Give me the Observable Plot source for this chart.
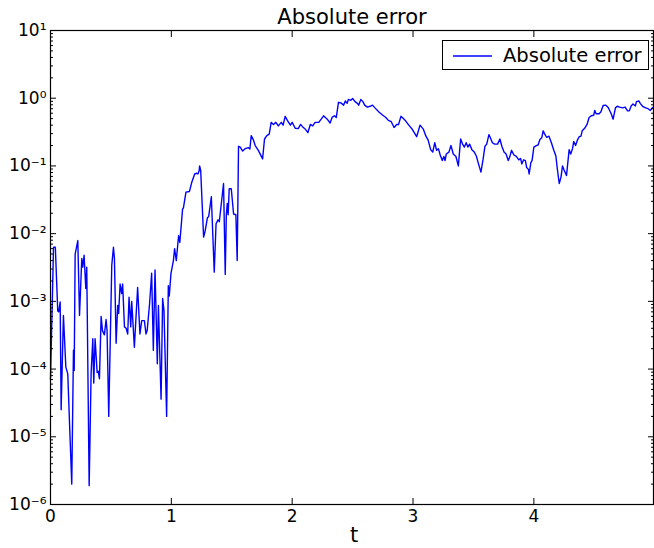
<!DOCTYPE html>
<html><head><meta charset="utf-8">
<script src="https://cdn.jsdelivr.net/npm/d3@7"></script>
<script src="https://cdn.jsdelivr.net/npm/@observablehq/plot@0.6"></script>
<style>
body{margin:0;background:#fff;font-family:"DejaVu Sans",sans-serif}
#wrap{position:relative;width:654px;height:548px}
#legend{position:absolute;left:442px;top:40px;width:207px;height:30px;border:1px solid #000;background:#fff;box-sizing:border-box;font-family:"DejaVu Sans",sans-serif;font-size:19.5px;color:#000}
#legend svg{position:absolute;left:9px;top:13px}
#legend span{position:absolute;left:60px;top:3px;white-space:nowrap}
</style></head><body><div id="wrap"></div>
<script>
const title = "Absolute error";
const xLabel = "t";
const seriesName = "Absolute error";
const xTicks = [0, 1, 2, 3, 4];
const yMajor = [1e-6, 1e-5, 1e-4, 1e-3, 1e-2, 1e-1, 1e0, 1e1];
const yMinorMult = [2, 3, 4, 5, 6, 7, 8, 9];

const tValues = [
0, 0.025, 0.04, 0.06, 0.068, 0.08, 0.088, 0.107, 0.127, 0.143, 0.16, 0.176, 0.19, 0.196, 0.204, 0.226, 0.24, 0.259, 0.267, 0.278,
0.292, 0.30, 0.32, 0.336, 0.35, 0.358, 0.369, 0.386, 0.395, 0.405, 0.419, 0.43, 0.446, 0.46, 0.468, 0.482, 0.507, 0.521, 0.529, 0.543,
0.556, 0.564, 0.576, 0.589, 0.597, 0.612, 0.626, 0.639, 0.65, 0.664, 0.672, 0.694, 0.721, 0.74, 0.755, 0.777, 0.79, 0.80, 0.82, 0.837,
0.851, 0.865, 0.884, 0.893, 0.915, 0.928, 0.939, 0.961, 0.975, 0.983, 0.997, 1.017, 1.027, 1.041, 1.06, 1.07, 1.093, 1.10, 1.121, 1.15,
1.17, 1.193, 1.21, 1.22, 1.23, 1.234, 1.243, 1.267, 1.28, 1.298, 1.309, 1.331, 1.355, 1.37, 1.386, 1.397, 1.432, 1.446, 1.455, 1.463,
1.47, 1.479, 1.496, 1.515, 1.534, 1.545, 1.556, 1.57, 1.59, 1.61, 1.636, 1.65, 1.661, 1.68, 1.694, 1.72, 1.755, 1.771, 1.79, 1.81,
1.826, 1.845, 1.865, 1.885, 1.91, 1.925, 1.942, 1.96, 1.985, 2.0, 2.025, 2.05, 2.07, 2.085, 2.105, 2.13, 2.15, 2.17, 2.19, 2.22,
2.24, 2.26, 2.29, 2.314, 2.33, 2.35, 2.365, 2.383, 2.405, 2.425, 2.44, 2.455, 2.465, 2.485, 2.50, 2.52, 2.54, 2.55, 2.568, 2.585,
2.60, 2.622, 2.645, 2.665, 2.685, 2.72, 2.75, 2.775, 2.796, 2.82, 2.843, 2.865, 2.88, 2.90, 2.92, 2.94, 2.965, 2.99, 3.03, 3.058,
3.085, 3.105, 3.125, 3.146, 3.163, 3.18, 3.195, 3.21, 3.225, 3.242, 3.255, 3.265, 3.275, 3.297, 3.314, 3.333, 3.355, 3.375, 3.394, 3.41,
3.425, 3.44, 3.454, 3.468, 3.487, 3.507, 3.524, 3.54, 3.562, 3.58, 3.595, 3.61, 3.628, 3.64, 3.657, 3.675, 3.70, 3.719, 3.735, 3.753,
3.77, 3.788, 3.80, 3.815, 3.835, 3.855, 3.875, 3.89, 3.90, 3.915, 3.93, 3.94, 3.955, 3.961, 3.975, 3.985, 4.0, 4.02, 4.035, 4.05,
4.065, 4.077, 4.09, 4.105, 4.125, 4.145, 4.165, 4.182, 4.196, 4.21, 4.225, 4.237, 4.25, 4.27, 4.292, 4.305, 4.32, 4.33, 4.345, 4.36,
4.375, 4.39, 4.40, 4.42, 4.44, 4.457, 4.475, 4.495, 4.504, 4.515, 4.54, 4.555, 4.573, 4.595, 4.615, 4.64, 4.656, 4.675, 4.69, 4.71,
4.735, 4.755, 4.775, 4.79, 4.805, 4.82, 4.84, 4.849, 4.87, 4.88, 4.90, 4.925, 4.945, 4.964, 4.98, 4.99
];
const errValues = [
7e-5, 6.3e-3, 6.3e-3, 7.2e-4, 7.0e-4, 9.8e-4, 2.5e-5, 6.2e-4, 1.07e-4, 8.5e-5, 1.2e-5, 2.0e-6, 1.9e-4, 9.5e-5, 5.0e-3, 7.9e-3, 6.2e-4, 4.3e-3, 3.2e-3, 4.8e-3,
1.55e-3, 3.2e-3, 1.9e-6, 8.5e-5, 2.8e-4, 6.2e-5, 2.8e-4, 8.9e-5, 9.3e-5, 7.2e-5, 6.0e-4, 3.7e-4, 3.2e-4, 5.4e-4, 3.7e-4, 2.0e-5, 3.4e-3, 6.3e-3, 4.3e-3, 2.4e-4,
8.7e-4, 6.6e-4, 1.8e-3, 1.3e-3, 1.8e-3, 4.2e-4, 4.0e-4, 3.3e-4, 1.15e-3, 4.2e-4, 1.0e-3, 2.1e-4, 1.6e-3, 3.3e-4, 5.2e-4, 5.2e-4, 3.3e-4, 3.7e-4, 9.3e-4, 2.6e-3,
1.9e-4, 2.9e-3, 1.2e-4, 8.7e-4, 3.6e-5, 1.1e-3, 7.4e-4, 2.0e-5, 1.7e-3, 1.2e-3, 2.6e-3, 4.0e-3, 6.0e-3, 4.0e-3, 9.3e-3, 7.4e-3, 2.3e-2, 2.4e-2, 4.1e-2, 4.2e-2,
5.8e-2, 7.6e-2, 7.8e-2, 7.6e-2, 8.5e-2, 0.10, 8.5e-2, 8.9e-3, 1.1e-2, 1.7e-2, 1.8e-2, 3.5e-2, 2.7e-3, 1.4e-2, 1.6e-2, 1.5e-2, 5.5e-2, 2.5e-3, 1.9e-2, 2.8e-2,
1.9e-2, 4.6e-2, 4.6e-2, 1.95e-2, 1.9e-2, 4.0e-3, 0.195, 0.19, 0.166, 0.18, 0.186, 0.178, 0.28, 0.24, 0.20, 0.17, 0.127, 0.25, 0.28, 0.295,
0.44, 0.41, 0.44, 0.39, 0.44, 0.40, 0.54, 0.47, 0.40, 0.44, 0.36, 0.355, 0.41, 0.38, 0.355, 0.31, 0.41, 0.39, 0.44, 0.44,
0.49, 0.55, 0.49, 0.43, 0.52, 0.55, 0.52, 0.87, 0.85, 0.79, 0.91, 0.84, 0.96, 0.93, 0.99, 0.89, 0.84, 0.79, 0.96, 0.89,
0.79, 0.74, 0.76, 0.79, 0.72, 0.62, 0.56, 0.52, 0.47, 0.45, 0.37, 0.41, 0.41, 0.54, 0.50, 0.46, 0.40, 0.355, 0.27, 0.40,
0.35, 0.28, 0.24, 0.174, 0.16, 0.22, 0.17, 0.18, 0.145, 0.12, 0.138, 0.12, 0.15, 0.16, 0.20, 0.15, 0.138, 0.10, 0.25, 0.21,
0.19, 0.22, 0.19, 0.21, 0.174, 0.16, 0.14, 0.11, 0.081, 0.126, 0.195, 0.21, 0.29, 0.26, 0.22, 0.21, 0.21, 0.25, 0.195, 0.16,
0.15, 0.12, 0.135, 0.17, 0.145, 0.138, 0.123, 0.129, 0.107, 0.123, 0.12, 0.095, 0.089, 0.076, 0.112, 0.12, 0.19, 0.20, 0.204, 0.245,
0.26, 0.33, 0.295, 0.265, 0.275, 0.22, 0.17, 0.14, 0.085, 0.055, 0.069, 0.10, 0.087, 0.072, 0.174, 0.15, 0.18, 0.23, 0.20, 0.24,
0.27, 0.275, 0.33, 0.36, 0.41, 0.52, 0.55, 0.56, 0.66, 0.59, 0.59, 0.63, 0.78, 0.79, 0.73, 0.59, 0.49, 0.72, 0.76, 0.74,
0.72, 0.74, 0.65, 0.65, 0.77, 0.82, 0.77, 0.89, 0.91, 0.84, 0.76, 0.72, 0.70, 0.66, 0.72, 0.74
];

const data = tValues.map((t, i) => ({t, err: errValues[i]}));
const yMinor = yMajor.slice(0, -1).flatMap(d => yMinorMult.map(m => m * d));
const supMap = {"-": "\u207B", "0": "\u2070", "1": "\u00B9", "2": "\u00B2", "3": "\u00B3", "4": "\u2074", "5": "\u2075", "6": "\u2076", "7": "\u2077", "8": "\u2078", "9": "\u2079"};
const fmtPow = d => "10" + String(Math.round(Math.log10(d))).split("").map(c => supMap[c]).join("");

const chart = Plot.plot({
  width: 654, height: 548,
  marginLeft: 50, marginRight: 1, marginTop: 30, marginBottom: 44,
  x: {domain: [0, 4.99]},
  y: {type: "log", domain: [1e-6, 10]},
  style: {fontFamily: "DejaVu Sans, sans-serif", fontSize: "17px", color: "black", background: "white"},
  marks: [
    Plot.line(data, {x: "t", y: "err", stroke: "#0000ff", strokeWidth: 1.4}),
    Plot.frame({stroke: "black", strokeWidth: 1.2}),
    Plot.axisY({anchor: "left", ticks: yMajor, tickSize: -6, fill: "none", label: null}),
    Plot.axisY({anchor: "right", ticks: yMajor, tickSize: -6, fill: "none", label: null}),
    Plot.axisY({anchor: "left", ticks: yMinor, tickSize: -3, fill: "none", label: null}),
    Plot.axisY({anchor: "right", ticks: yMinor, tickSize: -3, fill: "none", label: null}),
    Plot.axisY({anchor: "left", ticks: yMajor, tickSize: 0, tickPadding: 4, tickFormat: fmtPow, label: null}),
    Plot.axisX({anchor: "bottom", ticks: xTicks, tickSize: -6, fill: "none", label: null}),
    Plot.axisX({anchor: "top", ticks: xTicks, tickSize: -6, fill: "none", label: null}),
    Plot.axisX({anchor: "bottom", ticks: xTicks, tickSize: 0, tickPadding: 5, tickFormat: d => String(d), label: null}),
    Plot.text([xLabel], {text: d => d, frameAnchor: "bottom", dy: 31, dx: 2, fontSize: 21, lineAnchor: "middle"}),
    Plot.text([title], {text: d => d, frameAnchor: "top", dy: -13, fontSize: 21, lineAnchor: "middle"})
  ]
});
const wrap = document.getElementById("wrap");
wrap.appendChild(chart);
const legend = document.createElement("div");
legend.id = "legend";
legend.innerHTML = '<svg width="42" height="4"><line x1="1" y1="2" x2="40" y2="2" stroke="#0000ff" stroke-width="1.4"/></svg><span></span>';
legend.querySelector("span").textContent = seriesName;
wrap.appendChild(legend);
</script>
</body></html>
